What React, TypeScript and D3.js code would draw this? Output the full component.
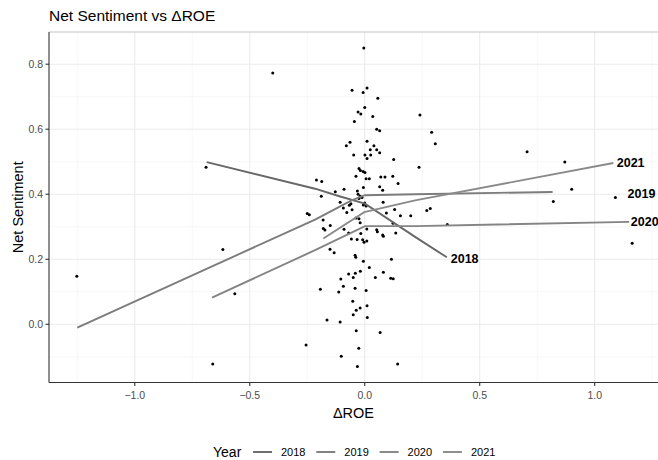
import React from 'react';
import * as d3 from 'd3';

// scatter: ΔROE vs net sentiment
const roe = [
  -0.004, -0.400, -0.055, 0.010, -0.007, 0.057, 0.240, 0.000, -0.029, -0.017,
  0.035, -0.045, 0.052, 0.065, 0.291, 0.307, 0.010, -0.064, -0.080, 0.040,
  0.024, 0.052, -0.048, 0.001, 0.010, 0.026, 0.065, 0.126, 0.236, -0.025,
  -0.019, -0.007, 0.001, -0.038, 0.006, 0.020, 0.070, 0.088, 0.122, -0.210,
  -0.187, 0.145, -0.090, -0.128, -0.189, -0.032, -0.006, 0.065, 0.078, -0.029,
  -0.020, -0.025, -0.012, -0.107, -0.060, -0.067, 0.000, -0.006, 0.006, 0.080,
  -0.093, -0.078, -0.250, -0.241, -0.055, 0.130, 0.094, 0.270, 0.285, -0.038,
  -0.025, -0.181, 0.155, 0.200, -0.020, -0.150, -0.180, -0.173, 0.123, 0.009,
  -0.090, -0.070, -0.017, 0.052, 0.055, 0.078, 0.081, 0.135, -0.058, -0.033,
  -0.009, -0.003, 0.009, -0.151, -0.133, -0.042, -0.039, -0.006, 0.116, 0.020,
  -0.019, -0.070, -0.041, 0.081, -0.050, 0.046, 0.113, 0.124, -0.104, -0.093,
  -0.193, -0.042, -0.113, 0.006, -0.052, -0.020, 0.010, -0.037, -0.050, 0.011,
  -0.164, -0.107, -0.037, 0.067, -0.255, -0.026, -0.102, -0.032, 0.143, -0.661,
  -0.690, -0.617, -1.252, -0.565, 0.706, 0.870, 0.900, 0.820, 1.090, 1.163,
  0.359,
];
const sentiment = [
  0.850, 0.773, 0.720, 0.727, 0.713, 0.695, 0.644, 0.667, 0.653, 0.647,
  0.639, 0.624, 0.600, 0.595, 0.591, 0.555, 0.563, 0.560, 0.549, 0.549,
  0.537, 0.537, 0.521, 0.521, 0.510, 0.521, 0.528, 0.507, 0.483, 0.479,
  0.473, 0.470, 0.467, 0.455, 0.448, 0.448, 0.453, 0.453, 0.455, 0.444,
  0.439, 0.433, 0.415, 0.408, 0.394, 0.410, 0.421, 0.423, 0.412, 0.400,
  0.394, 0.387, 0.390, 0.375, 0.371, 0.366, 0.373, 0.367, 0.364, 0.375,
  0.358, 0.344, 0.341, 0.337, 0.352, 0.353, 0.342, 0.350, 0.356, 0.327,
  0.325, 0.321, 0.334, 0.334, 0.312, 0.304, 0.295, 0.290, 0.311, 0.293,
  0.292, 0.281, 0.279, 0.291, 0.285, 0.275, 0.271, 0.281, 0.262, 0.261,
  0.260, 0.252, 0.256, 0.231, 0.220, 0.212, 0.206, 0.194, 0.200, 0.175,
  0.163, 0.155, 0.157, 0.160, 0.144, 0.144, 0.142, 0.140, 0.139, 0.117,
  0.108, 0.111, 0.099, 0.104, 0.071, 0.050, 0.057, 0.043, 0.029, 0.021,
  0.013, 0.007, -0.020, -0.025, -0.064, -0.074, -0.098, -0.130, -0.122, -0.122,
  0.483, 0.230, 0.148, 0.094, 0.531, 0.499, 0.415, 0.378, 0.390, 0.249,
  0.307,
];

// smoothed fits per year
const years = ['2018', '2019', '2020', '2021'];
const fitX = [
  [-0.687, -0.216, -0.107, 0.001, 0.219, 0.357],
  [-1.250, -0.216, -0.057, 0.001, 0.219, 0.817],
  [-0.664, -0.216, 0.001, 0.219, 1.150],
  [-0.180, -0.002, 0.219, 1.081],
];
const fitY = [
  [0.499, 0.417, 0.393, 0.371, 0.269, 0.206],
  [-0.010, 0.322, 0.381, 0.397, 0.400, 0.407],
  [0.082, 0.228, 0.302, 0.302, 0.315],
  [0.264, 0.345, 0.381, 0.496],
];
// where each year's label sits
const labelX = [0.374, 1.143, 1.157, 1.096];
const labelY = [0.201, 0.402, 0.315, 0.496];

const xTicks = [-1.0, -0.5, 0.0, 0.5, 1.0];
const xMinor = [-1.25, -0.75, -0.25, 0.25, 0.75, 1.25];
const yTicks = [0.0, 0.2, 0.4, 0.6, 0.8];
const yMinor = [-0.1, 0.1, 0.3, 0.5, 0.7];

const lineColors = ['#686868', '#7c7c7c', '#848484', '#8a8a8a'];
const font = 'Liberation Sans, Arial, sans-serif';

export default function App() {
  const W = 658, H = 460;
  const left = 49, right = 660, top = 32, bottom = 382.5;

  const x = d3.scaleLinear().domain([-1.373, 1.284]).range([left, right]);
  const y = d3.scaleLinear().domain([-0.179, 0.899]).range([bottom, top]);

  const line = d3.line<[number, number]>()
    .x(d => x(d[0]))
    .y(d => y(d[1]));

  const fmt = d3.format('.1f');

  return (
    <svg width={W} height={H} style={{ position: 'absolute', left: 0, top: 0, background: '#fff' }} fontFamily={font}>
      <defs>
        <clipPath id="panel">
          <rect x={left} y={top} width={W - left} height={bottom - top} />
        </clipPath>
      </defs>

      {/* grid */}
      <g clipPath="url(#panel)">
        {xMinor.map(t => (
          <line key={'xm' + t} x1={x(t)} x2={x(t)} y1={top} y2={bottom} stroke="#f2f2f2" strokeWidth={0.6} />
        ))}
        {yMinor.map(t => (
          <line key={'ym' + t} x1={left} x2={W} y1={y(t)} y2={y(t)} stroke="#f2f2f2" strokeWidth={0.6} />
        ))}
        {xTicks.map(t => (
          <line key={'xg' + t} x1={x(t)} x2={x(t)} y1={top} y2={bottom} stroke="#ebebeb" strokeWidth={1.1} />
        ))}
        {yTicks.map(t => (
          <line key={'yg' + t} x1={left} x2={W} y1={y(t)} y2={y(t)} stroke="#ebebeb" strokeWidth={1.1} />
        ))}
      </g>

      {/* points */}
      <g clipPath="url(#panel)">
        {roe.map((v, i) => (
          <circle key={i} cx={x(v)} cy={y(sentiment[i])} r={1.5} fill="#000" />
        ))}
      </g>

      {/* fitted lines */}
      <g clipPath="url(#panel)">
        {years.map((yr, i) => (
          <path
            key={yr}
            d={line(fitX[i].map((v, j) => [v, fitY[i][j]] as [number, number])) || ''}
            fill="none"
            stroke={lineColors[i]}
            strokeWidth={1.9}
          />
        ))}
      </g>

      {/* panel border + axes */}
      <line x1={left} x2={W} y1={top} y2={top} stroke="#c4c4c4" strokeWidth={1.1} />
      <line x1={left} x2={left} y1={top} y2={bottom} stroke="#333" strokeWidth={1.1} />
      <line x1={left} x2={W} y1={bottom} y2={bottom} stroke="#333" strokeWidth={1.1} />

      {xTicks.map(t => (
        <g key={'xt' + t}>
          <line x1={x(t)} x2={x(t)} y1={bottom} y2={bottom + 3.5} stroke="#333" strokeWidth={1.1} />
          <text x={x(t)} y={bottom + 16} textAnchor="middle" fontSize={10.5} fill="#4d4d4d">{fmt(t)}</text>
        </g>
      ))}
      {yTicks.map(t => (
        <g key={'yt' + t}>
          <line x1={left - 3.5} x2={left} y1={y(t)} y2={y(t)} stroke="#333" strokeWidth={1.1} />
          <text x={left - 6} y={y(t)} dy="0.35em" textAnchor="end" fontSize={10.5} fill="#4d4d4d">{fmt(t)}</text>
        </g>
      ))}

      {/* year labels */}
      {years.map((yr, i) => (
        <text key={'lab' + yr} x={x(labelX[i])} y={y(labelY[i])} dy="0.35em" fontSize={12.5} fontWeight="bold" fill="#000">{yr}</text>
      ))}

      {/* titles */}
      <text x={49} y={21} fontSize={15.5} fill="#000">Net Sentiment vs ΔROE</text>
      <text x={(left + W) / 2} y={418} textAnchor="middle" fontSize={14.5} fill="#000">ΔROE</text>
      <text transform={`translate(23,${(top + bottom) / 2}) rotate(-90)`} textAnchor="middle" fontSize={14.5} fill="#000">Net Sentiment</text>

      {/* legend */}
      <text x={213} y={452} dy="0.35em" fontSize={14} fill="#000">Year</text>
      {years.map((yr, i) => {
        const lx = 253 + i * 63.3;
        return (
          <g key={'leg' + yr}>
            <line x1={lx} x2={lx + 19} y1={452} y2={452} stroke={lineColors[i]} strokeWidth={1.9} />
            <text x={lx + 28} y={452} dy="0.35em" fontSize={11} fill="#000">{yr}</text>
          </g>
        );
      })}
    </svg>
  );
}
